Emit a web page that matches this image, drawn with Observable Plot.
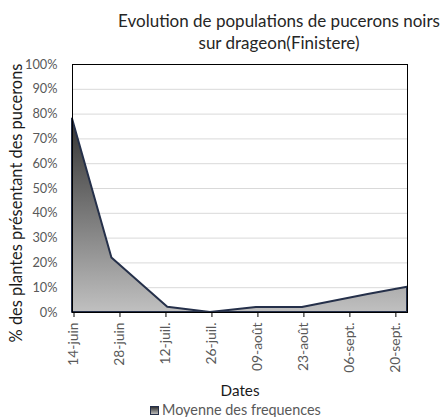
<!DOCTYPE html>
<html><head><meta charset="utf-8">
<script src="https://cdn.jsdelivr.net/npm/d3@7"></script>
<script src="https://cdn.jsdelivr.net/npm/@observablehq/plot@0.6"></script>
<style>
body{margin:0;background:#fff;}
#wrap{position:relative;width:442px;height:417px;overflow:hidden;font-family:Lato, sans-serif;}
.abs{position:absolute;white-space:nowrap;}
#title{left:79px;width:400px;text-align:center;color:#262626;}
#chart{position:absolute;left:0;top:50px;}
#xtitle{left:190px;width:100px;text-align:center;color:#1a1a1a;}
#ytitle{width:320px;text-align:center;color:#1a1a1a;transform:rotate(-90deg);}
#legend{left:150px;color:#595959;}
#legend .ic{display:inline-block;width:7px;height:7px;border:1px solid #25304a;background:linear-gradient(#333,#bbb);margin-right:3px;vertical-align:baseline;}
</style></head><body>
<div id="wrap">
  <div class="abs" id="title">Evolution de populations de pucerons noirs<br>sur drageon(Finistere)</div>
  <div id="chart"></div>
  <div class="abs" id="xtitle">Dates</div>
  <div class="abs" id="ytitle">% des plantes présentant des pucerons</div>
  <div class="abs" id="legend"><span class="ic"></span>Moyenne des frequences</div>
</div>
<script>
const dates = ["2014-06-14","2014-06-26","2014-07-13","2014-07-26","2014-08-09","2014-08-23","2014-09-12","2014-09-24"];
const values = [0.78, 0.22, 0.021, 0, 0.02, 0.02, 0.073, 0.102];
const tickDates = ["2014-06-14","2014-06-28","2014-07-12","2014-07-26","2014-08-09","2014-08-23","2014-09-06","2014-09-20"];
const tickLabels = ["14-juin","28-juin","12-juil.","26-juil.","09-août","23-août","06-sept.","20-sept."];
const yTicks = [0,0.1,0.2,0.3,0.4,0.5,0.6,0.7,0.8,0.9,1];

// size fonts so the text widths match the reference
const cv = document.createElement("canvas").getContext("2d");
function fit(text, target){ cv.font = "100px Lato"; return 100*target/cv.measureText(text).width; }
const fsTick = fit("100%", 32.5);
const fsTickX = (fit("14-juin", 43.5) + fit("20-sept.", 50)) / 2;
const fsTitle = fit("Evolution de populations de pucerons noirs", 322);
const fsX = fit("Dates", 39);
const fsY = fit("% des plantes présentant des pucerons", 279);
const fsLeg = fit("Moyenne des frequences", 159);

function baseOff(fs, L){ return (L-1.2*fs)/2 + 0.987*fs; }
function setText(id, fs, L, baseline){
  const el=document.getElementById(id);
  el.style.fontSize=fs+"px"; el.style.lineHeight=L+"px";
  el.style.top=(baseline-baseOff(fs,L))+"px";
  return el;
}
setText("title", fsTitle, 22, 28);
setText("xtitle", fsX, 20, 395.5);
setText("legend", fsLeg, 18, 415.5);
{ const el=document.getElementById("ytitle"); const L=20;
  el.style.fontSize=fsY+"px"; el.style.lineHeight=L+"px"; el.style.height=L+"px";
  const cx = 22 + L/2 - baseOff(fsY,L);
  el.style.left=(cx-160)+"px"; el.style.top=(202.5-L/2)+"px"; }

const data = dates.map((d,i)=>({date:new Date(d), value:values[i]}));
const ticks = tickDates.map(d=>new Date(d));
const labelMap = new Map(ticks.map((d,i)=>[+d, tickLabels[i]]));

const plot = Plot.plot({
  width:442, height:350, marginTop:14, marginBottom:88, marginLeft:72, marginRight:35,
  style:{fontFamily:"Lato, sans-serif", background:"transparent", overflow:"visible"},
  x:{type:"utc", domain:[data[0].date, data[data.length-1].date]},
  y:{domain:[0,1]},
  marks:[
    Plot.gridY(yTicks, {stroke:"#d9d9d9", strokeOpacity:1, strokeWidth:1}),
    Plot.areaY(data, {x:"date", y:"value", fill:"url(#areaGrad)", stroke:"#25304a", strokeWidth:2}),
    Plot.frame({stroke:"#000", strokeWidth:1}),
    Plot.axisX(ticks, {tickFormat:d=>labelMap.get(+d), tickRotate:-90, tickSize:5, tickPadding:5, fontSize:fsTickX, fill:"#595959", stroke:"#000", label:null, dx:1.5}),
    Plot.axisY(yTicks, {tickFormat:d=>Math.round(d*100)+"%", tickSize:0, tickPadding:15, fontSize:fsTick, fill:"#595959", label:null})
  ]
});
const ns="http://www.w3.org/2000/svg";
const defs=document.createElementNS(ns,"defs");
defs.innerHTML='<linearGradient id="areaGrad" x1="0" y1="0" x2="0" y2="1"><stop offset="0" stop-color="#333333"/><stop offset="1" stop-color="#c0c0c0"/></linearGradient>';
plot.prepend(defs);
document.getElementById("chart").appendChild(plot);
</script>
</body></html>
